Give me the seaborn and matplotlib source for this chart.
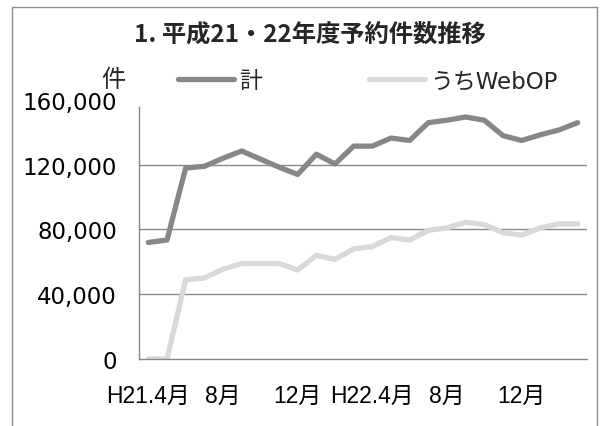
import numpy as np
import pandas as pd
import matplotlib
matplotlib.use('Agg')
import matplotlib.pyplot as plt
from matplotlib.lines import Line2D
import seaborn as sns

# ---- data ----
months = ['H21.4月', '5月', '6月', '7月', '8月', '9月', '10月', '11月', '12月', '1月', '2月', '3月',
          'H22.4月', '5月', '6月', '7月', '8月', '9月', '10月', '11月', '12月', '1月', '2月', '3月']
total = [72000, 73500, 118000, 119000, 124000, 128500, 123500, 118500, 114000, 126500, 120500, 131500,
         131500, 136500, 135000, 146000, 147500, 149500, 147500, 138000, 135000, 138500, 141500, 146000]
webop = [0, 0, 49000, 50000, 55500, 59000, 59000, 59000, 55000, 64000, 61500, 68000,
         69500, 75000, 73500, 79500, 81000, 84500, 83000, 78000, 76500, 81000, 83500, 83500]
series_names = ['計', 'うちWebOP']
tick_idx = [0, 4, 8, 12, 16, 20]
tick_labels = ['H21.4月', '8月', '12月', 'H22.4月', '8月', '12月']
y_ticks = [0, 40000, 80000, 120000, 160000]
title = '1. 平成21・22年度予約件数推移'
y_unit = '件'

sns.set_theme(style='white')
plt.rcParams['font.family'] = ['DejaVu Sans', 'Noto Sans CJK JP']

n = len(months)
df = pd.DataFrame({
    'idx': list(range(n)) * 2,
    'value': total + webop,
    'series': [series_names[0]] * n + [series_names[1]] * n,
})

W, H = 606, 427
fig = plt.figure(figsize=(W / 100, H / 100), dpi=100)
fig.patch.set_facecolor('white')
ax = fig.add_axes([139 / W, 1 - 360 / H, (587 - 139) / W, (360 - 101) / H])

palette = {series_names[0]: '#878787', series_names[1]: '#d9d9d9'}
sns.lineplot(data=df, x='idx', y='value', hue='series', hue_order=series_names,
             palette=palette, linewidth=3.8, ax=ax, legend=False,
             solid_capstyle='round', solid_joinstyle='round')

ax.set_xlim(-0.5, n - 0.5)
ax.set_ylim(0, 160000)
ax.set_yticks(y_ticks)
ax.set_yticklabels([f'{v:,}' for v in y_ticks], fontsize=16.5, family=['DejaVu Sans'])
ax.set_xticks(tick_idx)
ax.set_xticklabels(tick_labels, fontsize=16.5, family=['Liberation Sans', 'Noto Sans CJK JP'])
ax.set_xticks([4.5, 9.5, 14.5, 19.5], minor=True)
ax.tick_params(axis='x', which='major', length=0, pad=18, colors='black')
ax.tick_params(axis='x', which='minor', length=5, width=1, direction='in', color='#868686')
ax.tick_params(axis='y', length=0, pad=16, colors='black')
ax.set_xlabel('')
ax.set_ylabel('')

ax.yaxis.grid(True, color='#8a8a8a', linewidth=1.0)
ax.xaxis.grid(False)
gl = ax.yaxis.get_gridlines()
gl[0].set_visible(False)
gl[-1].set_visible(False)
for s in ['top', 'right']:
    ax.spines[s].set_visible(False)
for s in ['left', 'bottom']:
    ax.spines[s].set_color('#868686')
    ax.spines[s].set_linewidth(1.0)
ax.spines['left'].set_bounds(0, 155500)

# legend
handles = [Line2D([], [], color=palette[s], linewidth=3.8, solid_capstyle='round') for s in series_names]
fig.legend(handles, series_names, loc='center left', bbox_to_anchor=(178 / W, 1 - 82 / H),
           ncol=2, frameon=False, handlelength=2.45, handletextpad=0.2, columnspacing=4.7,
           borderpad=0, borderaxespad=0, fontsize=16.5)

fig.text(113 / W, 1 - 80 / H, y_unit, ha='center', va='center', fontsize=17.5,
         family=['Noto Sans CJK JP'])
fig.text(310 / W, 1 - 35 / H, title, ha='center', va='center', fontsize=17.5,
         fontweight='bold', family=['Noto Sans CJK JP'])

# chart-area border
bc = '#8c8c8c'
fig.add_artist(Line2D([12 / W, 12 / W], [0, 1 - 8 / H], transform=fig.transFigure, color=bc, lw=1))
fig.add_artist(Line2D([597 / W, 597 / W], [0, 1 - 8 / H], transform=fig.transFigure, color=bc, lw=1))
fig.add_artist(Line2D([12 / W, 597 / W], [1 - 8 / H, 1 - 8 / H], transform=fig.transFigure, color=bc, lw=1))

fig.savefig('out.png', dpi=100)
